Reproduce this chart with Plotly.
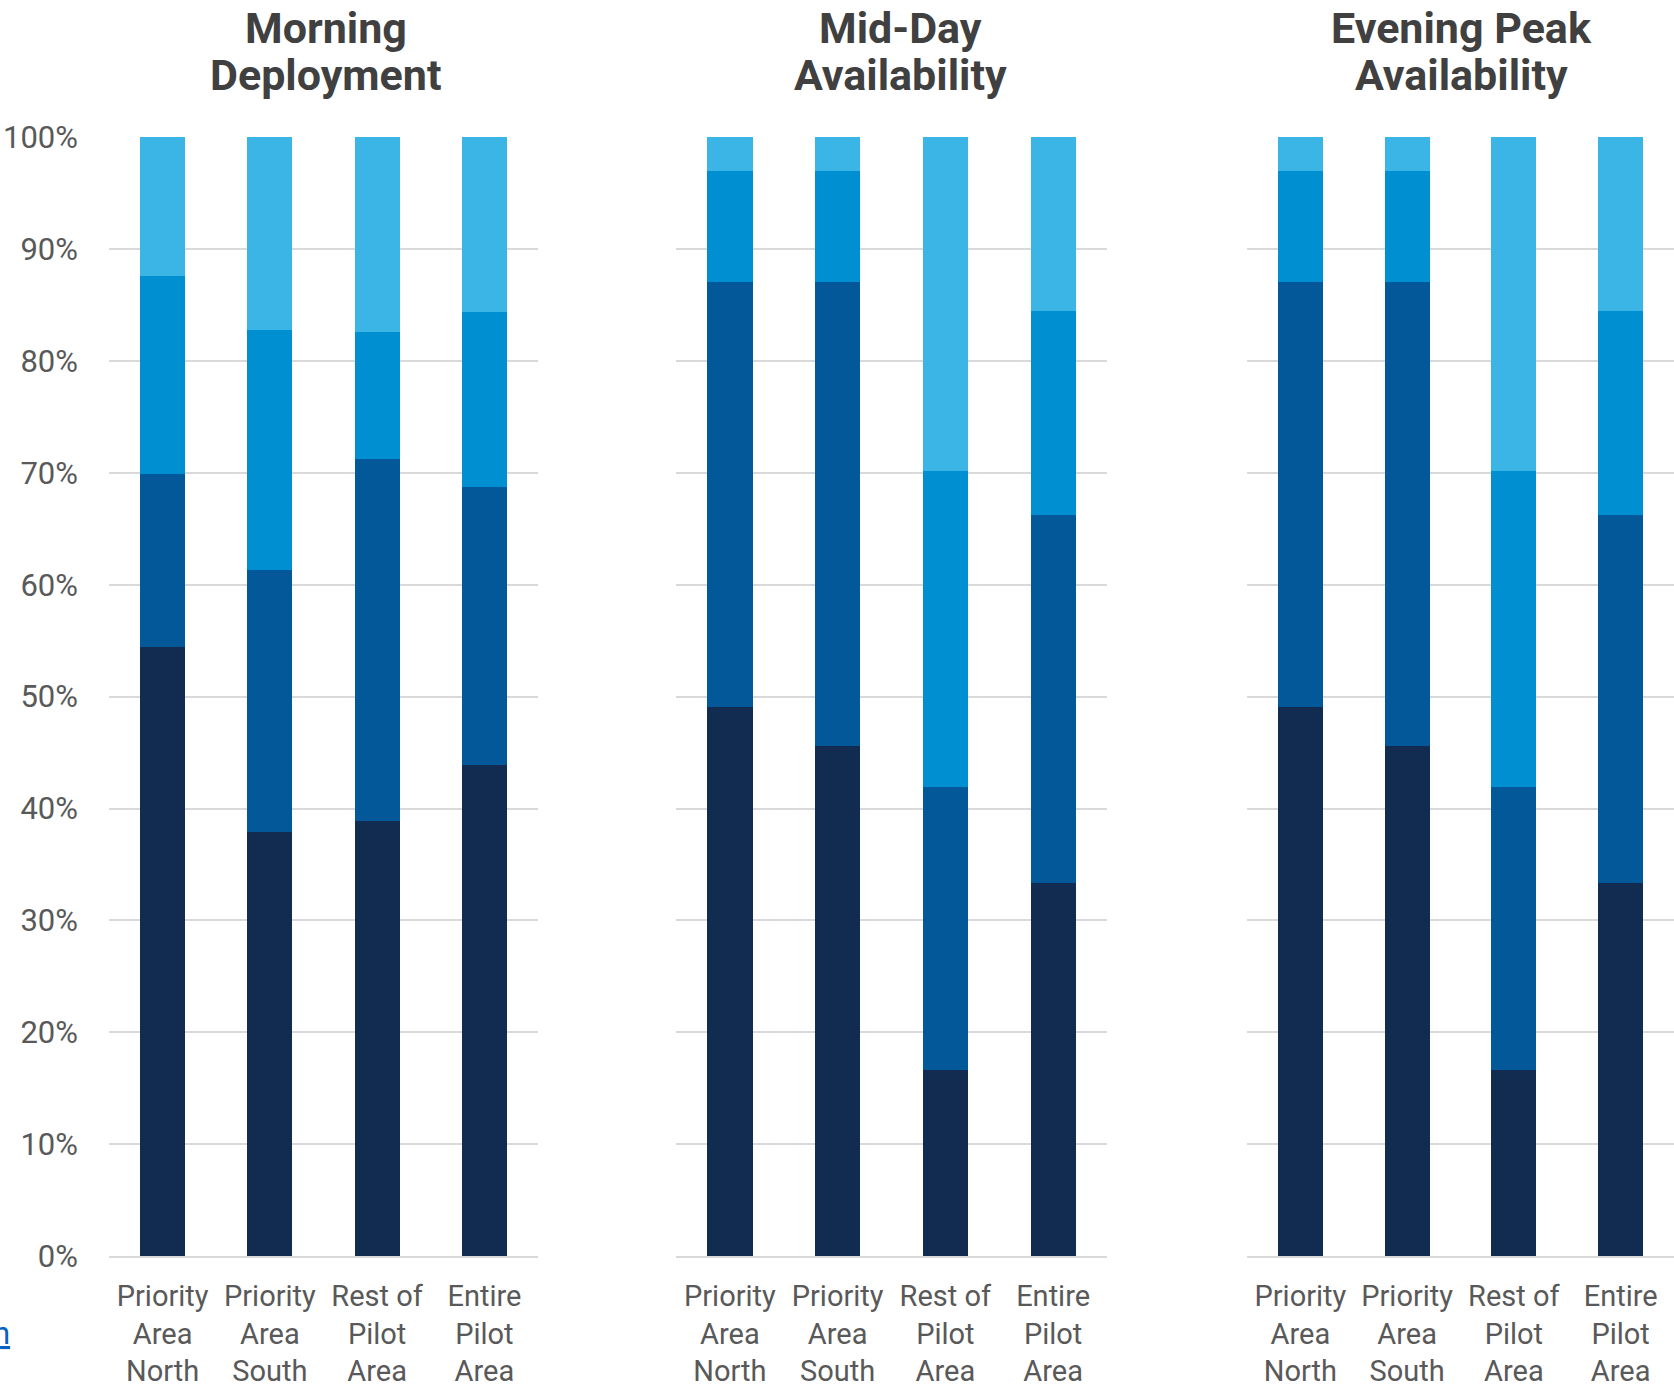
import plotly.graph_objects as go

W, H = 1674, 1388

categories = ["Priority<br>Area<br>North", "Priority<br>Area<br>South", "Rest of<br>Pilot<br>Area", "Entire<br>Pilot<br>Area"]
panel_title_lines = [["Morning", "Deployment"], ["Mid-Day", "Availability"], ["Evening Peak", "Availability"]]
segment_names = ["Segment 1", "Segment 2", "Segment 3", "Segment 4"]

# Values in percent (bottom to top), one list per segment
morning_seg1 = [54.4, 37.9, 38.9, 43.9]
morning_seg2 = [15.5, 23.4, 32.3, 24.8]
morning_seg3 = [17.7, 21.5, 11.4, 15.7]
morning_seg4 = [12.4, 17.2, 17.4, 15.6]

midday_seg1 = [49.1, 45.6, 16.6, 33.3]
midday_seg2 = [38.0, 41.5, 25.3, 32.9]
midday_seg3 = [9.9, 9.9, 28.3, 18.3]
midday_seg4 = [3.0, 3.0, 29.8, 15.5]

evening_seg1 = [49.1, 45.6, 16.6, 33.3]
evening_seg2 = [38.0, 41.5, 25.3, 32.9]
evening_seg3 = [9.9, 9.9, 28.3, 18.3]
evening_seg4 = [3.0, 3.0, 29.8, 15.5]

y_tickvals = [0, 10, 20, 30, 40, 50, 60, 70, 80, 90, 100]
y_ticktext = ["0%", "10%", "20%", "30%", "40%", "50%", "60%", "70%", "80%", "90%", "100%"]

colors = ["#122B50", "#03589A", "#0090D1", "#3BB5E6"]

panels = [
    [morning_seg1, morning_seg2, morning_seg3, morning_seg4],
    [midday_seg1, midday_seg2, midday_seg3, midday_seg4],
    [evening_seg1, evening_seg2, evening_seg3, evening_seg4],
]

fig = go.Figure()
for p, segs in enumerate(panels):
    xa = "x" if p == 0 else f"x{p+1}"
    ya = "y" if p == 0 else f"y{p+1}"
    for s, vals in enumerate(segs):
        fig.add_trace(go.Bar(
            x=categories, y=vals, name=segment_names[s],
            marker=dict(color=colors[s], line=dict(width=0)),
            xaxis=xa, yaxis=ya, showlegend=False,
        ))

# layout in pixels
x_domains_px = [(109, 538), (676, 1107), (1247, 1674)]
y_top_px, y_bot_px = 136.7, 1256.0
ydom = [1 - y_bot_px / H, 1 - y_top_px / H]

ytick_font = dict(family="Roboto, Arial, sans-serif", size=31, color="#595959")
xtick_font = dict(family="Roboto, Arial, sans-serif", size=29, color="#595959")
grid_col = "#D9D9D9"

layout = dict(
    width=W, height=H,
    margin=dict(l=0, r=0, t=0, b=0, autoexpand=False),
    paper_bgcolor="white", plot_bgcolor="white",
    barmode="stack", bargap=0.58,
    font=dict(family="Roboto, Arial, sans-serif"),
)
for p in range(3):
    xk = "xaxis" if p == 0 else f"xaxis{p+1}"
    yk = "yaxis" if p == 0 else f"yaxis{p+1}"
    xd = [x_domains_px[p][0] / W, x_domains_px[p][1] / W]
    layout[xk] = dict(
        domain=xd, anchor="y" if p == 0 else f"y{p+1}",
        showline=True, linecolor=grid_col, linewidth=2,
        showgrid=False, tickfont=xtick_font, ticklabelstandoff=13,
        ticks="", fixedrange=True, automargin=False,
    )
    layout[yk] = dict(
        domain=ydom, anchor="x" if p == 0 else f"x{p+1}",
        range=[0, 100.05], tickvals=y_tickvals, ticktext=y_ticktext,
        showticklabels=(p == 0), tickfont=ytick_font,
        ticklabelstandoff=30, automargin=False,
        showgrid=True, gridcolor=grid_col, gridwidth=2,
        zeroline=False, showline=False, ticks="",
    )
fig.update_layout(**layout)

title_x_px = [325.5, 900, 1461]
title_line_y_px = [27.5, 74.5]
for p, lines in enumerate(panel_title_lines):
    for i, line in enumerate(lines):
        fig.add_annotation(
            text=f"<b>{line}</b>", xref="paper", yref="paper",
            x=title_x_px[p] / W, y=1 - title_line_y_px[i] / H,
            xanchor="center", yanchor="middle", showarrow=False,
            font=dict(family="Roboto, Arial, sans-serif", size=43, color="#404040"),
        )

# cropped hyperlink fragment at left edge
fig.add_annotation(
    text="<u>n</u>", xref="paper", yref="paper",
    x=-9 / W, y=1 - 1333 / H, xanchor="left", yanchor="middle",
    showarrow=False,
    font=dict(family="Roboto, Arial, sans-serif", size=31, color="#0563C1"),
)

fig.write_html("out.html")
